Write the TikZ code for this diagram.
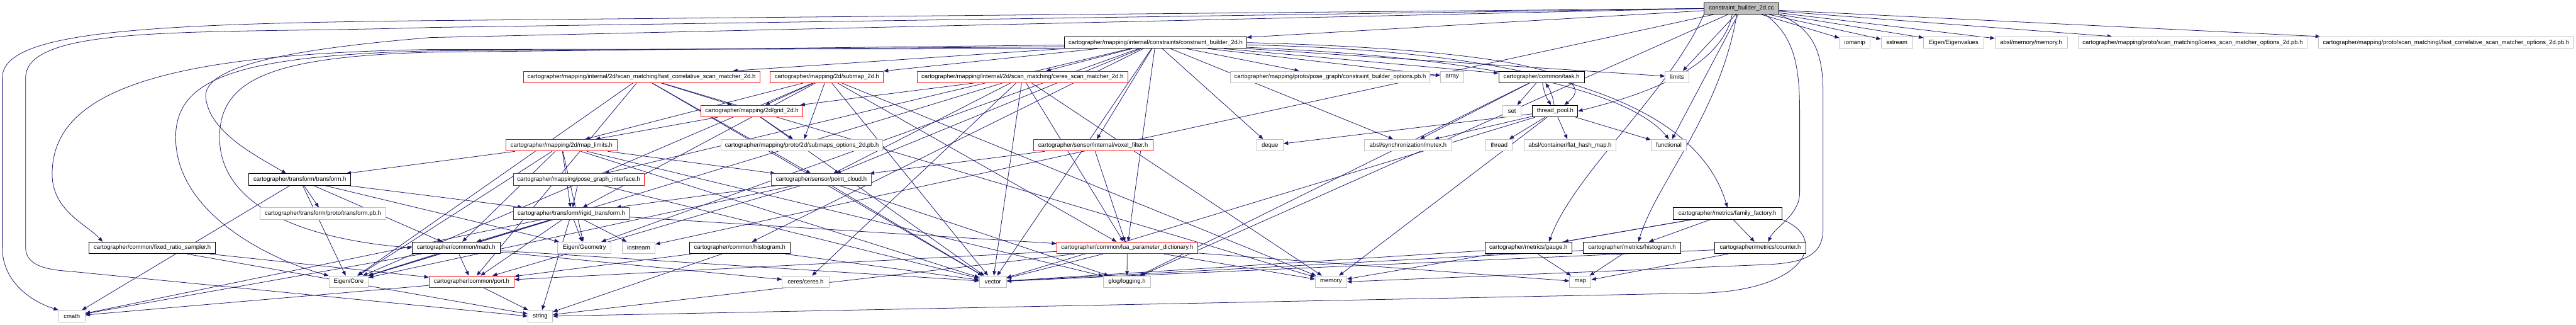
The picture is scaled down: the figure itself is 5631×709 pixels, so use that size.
\documentclass[tikz,border=0pt]{standalone}
\usepackage{fontspec}
\setmainfont{Liberation Sans}
\usetikzlibrary{arrows.meta,calc,backgrounds}
\definecolor{edgecol}{HTML}{191970}
\definecolor{grayb}{HTML}{BFBFBF}
\definecolor{redb}{HTML}{FF0000}
\newcommand\nodefnt{\fontsize{9.8pt}{11pt}\selectfont}
\begin{document}
\begin{tikzpicture}[x=0.75pt,y=-0.75pt,
  nb/.style={rectangle, draw, fill=white, inner sep=0pt, minimum height=19pt, font=\nodefnt, line width=1pt},
  bw/.style={minimum width=#1*0.75pt},
  gbox/.style={nb, draw=grayb},
  rbox/.style={nb, draw=redb},
  kbox/.style={nb, draw=black},
  rootbox/.style={nb, draw=black, fill=grayb},
  dep/.style={draw=edgecol, line width=0.8pt, -{Triangle[length=7.5pt,width=6pt]}},
]
\useasboundingbox (0,0) rectangle (5631,709);

% row 1
\node[rootbox, bw=163] (root) at (3806.5,18.5) {constraint\_builder\_2d.cc};
% row 2
\node[kbox, bw=398] (cb2dh) at (2526,93) {cartographer/mapping/internal/constraints/constraint\_builder\_2d.h};
\node[gbox, bw=67] (iomanip) at (4054.5,93) {iomanip};
\node[gbox, bw=69] (sstream) at (4146.5,93) {sstream};
\node[gbox, bw=131] (eigval) at (4270.5,93) {Eigen/Eigenvalues};
\node[gbox, bw=158] (absmem) at (4440,93) {absl/memory/memory.h};
\node[gbox, bw=500] (ceresopt) at (4793,93) {cartographer/mapping/proto/scan\_matching//ceres\_scan\_matcher\_options\_2d.pb.h};
\node[gbox, bw=558] (fastopt) at (5347,93) {cartographer/mapping/proto/scan\_matching//fast\_correlative\_scan\_matcher\_options\_2d.pb.h};
% row 3
\node[rbox, bw=517] (fcsm) at (1402.5,168) {cartographer/mapping/internal/2d/scan\_matching/fast\_correlative\_scan\_matcher\_2d.h};
\node[rbox, bw=247] (submap) at (1807.5,168) {cartographer/mapping/2d/submap\_2d.h};
\node[rbox, bw=460] (csm) at (2235,168) {cartographer/mapping/internal/2d/scan\_matching/ceres\_scan\_matcher\_2d.h};
\node[gbox, bw=435] (cbopt) at (2907.5,168) {cartographer/mapping/proto/pose\_graph/constraint\_builder\_options.pb.h};
\node[gbox, bw=51] (array) at (3174.5,168) {array};
\node[kbox, bw=187] (task) at (3369.5,168) {cartographer/common/task.h};
\node[gbox, bw=52] (limits) at (3666,168) {limits};
% row 4
\node[rbox, bw=223] (grid) at (1643.5,242.5) {cartographer/mapping/2d/grid\_2d.h};
\node[gbox, bw=40] (set) at (3305,242.5) {set};
\node[kbox, bw=99] (threadpool) at (3399.5,242.5) {thread\_pool.h};
% row 5
\node[rbox, bw=243] (maplimits) at (1227.5,317) {cartographer/mapping/2d/map\_limits.h};
\node[gbox, bw=354] (submapopt) at (1753,317) {cartographer/mapping/proto/2d/submaps\_options\_2d.pb.h};
\node[rbox, bw=261] (voxel) at (2389.5,317) {cartographer/sensor/internal/voxel\_filter.h};
\node[gbox, bw=58] (deque) at (2776,317) {deque};
\node[gbox, bw=192] (mutex) at (3078,317) {absl/synchronization/mutex.h};
\node[gbox, bw=58] (thread) at (3277,317) {thread};
\node[gbox, bw=202] (flat) at (3432,317) {absl/container/flat\_hash\_map.h};
\node[gbox, bw=78] (functional) at (3648,317) {functional};
% row 6
\node[kbox, bw=223] (transform) at (655.5,392) {cartographer/transform/transform.h};
\node[rbox, bw=286] (pgi) at (1265,392) {cartographer/mapping/pose\_graph\_interface.h};
\node[rbox, bw=219] (pc) at (1795.5,392) {cartographer/sensor/point\_cloud.h};
% row 7
\node[gbox, bw=274] (tpb) at (706,466) {cartographer/transform/proto/transform.pb.h};
\node[rbox, bw=254] (rigid) at (1249,466) {cartographer/transform/rigid\_transform.h};
\node[kbox, bw=238] (ff) at (3776,466) {cartographer/metrics/family\_factory.h};
% row 8
\node[kbox, bw=276] (frs) at (333,541) {cartographer/common/fixed\_ratio\_sampler.h};
\node[kbox, bw=192] (math) at (997,541) {cartographer/common/math.h};
\node[gbox, bw=117] (geom) at (1277.5,541) {Eigen/Geometry};
\node[gbox, bw=72] (iostream) at (1396,541) {iostream};
\node[kbox, bw=220] (chist) at (1617,541) {cartographer/common/histogram.h};
\node[rbox, bw=308] (lua) at (2464,541) {cartographer/common/lua\_parameter\_dictionary.h};
\node[kbox, bw=190] (gauge) at (3341,541) {cartographer/metrics/gauge.h};
\node[kbox, bw=213] (mhist) at (3567.5,541) {cartographer/metrics/histogram.h};
\node[kbox, bw=200] (counter) at (3848,541) {cartographer/metrics/counter.h};
% row 9
\node[gbox, bw=86] (core) at (762,615) {Eigen/Core};
\node[rbox, bw=186] (port) at (1031,615) {cartographer/common/port.h};
\node[gbox, bw=102] (ceres) at (1761,615) {ceres/ceres.h};
\node[gbox, bw=59] (vector) at (2170.5,615) {vector};
\node[gbox, bw=103] (glog) at (2463.5,615) {glog/logging.h};
\node[gbox, bw=69] (memory) at (2909.5,615) {memory};
\node[gbox, bw=47] (map) at (3454.5,615) {map};
% row 10
\node[gbox, bw=58] (cmath) at (157,690) {cmath};
\node[gbox, bw=54] (string) at (1181,690) {string};

% routing points
\coordinate (rA1) at (940,45);
\coordinate (rA2) at (5,170);
\coordinate (rA3) at (5,540);
\coordinate (rB1) at (940,60);
\coordinate (rB2) at (56,170);
\coordinate (rB3) at (56,540);
\coordinate (rB4) at (150,592);
\coordinate (rC1) at (940,108);
\coordinate (rC2) at (114,380);
\coordinate (rD1) at (940,111);
\coordinate (rD2) at (384,300);
\coordinate (rE1) at (940,114);
\coordinate (rE2) at (480,300);
\coordinate (rF1) at (940,82);
\coordinate (rF2) at (450,215);
\coordinate (rG1) at (3985,200);
\coordinate (rG2) at (3985,500);
\coordinate (rG3) at (3850,578);
\coordinate (rH1) at (3934,250);
\coordinate (rH2) at (3934,420);
\coordinate (rI1) at (3700,640);

\begin{pgfonlayer}{background}
\fill[white] (0,0) rectangle (5631,709);
% root
\foreach \t in {cb2dh,iomanip,sstream,eigval,absmem,ceresopt,fastopt,limits,functional,iostream,glog}
  \draw[dep] (root) -- (\t);
\draw[dep] (root.west) -- (rA1) .. controls (300,52) and (5,70) .. (rA2) -- (rA3) .. controls (5,610) and (60,655) .. (cmath.north west);
\draw[dep] (root.west) -- (rB1) .. controls (450,75) and (56,50) .. (rB2) -- (rB3) .. controls (56,575) and (90,588) .. (rB4) -- (string.west);
\draw[dep] (root.west) -- (rF1) .. controls (600,110) and (440,150) .. (rF2) .. controls (460,290) and (560,340) .. ($(transform.north)+(-30,0)$);
\draw[dep] (root.south east) .. controls (3960,60) and (3985,110) .. (rG1) -- (rG2) .. controls (3985,560) and (3940,575) .. (rG3) -- (memory.east);
\draw[dep] ($(root.south east)+(-30,0)$) .. controls (3925,80) and (3934,150) .. (rH1) -- (rH2) .. controls (3934,470) and (3880,495) .. ($(counter.north)+(17,0)$);
\draw[dep] ($(root.south)+(-20,0)$) .. controls (3760,160) and (3560,215) .. (threadpool.east);
\draw[dep] (root.south west) .. controls (3650,200) and (3440,380) .. ($(gauge.north)+(45,0)$);
\draw[dep] ($(root.south)+(-10,0)$) .. controls (3760,250) and (3620,400) .. ($(mhist.north)+(14,0)$);
% constraint_builder_2d.h
\foreach \t in {array,deque,limits,vector,geom,mutex,chist,lua,task,submap,csm,fcsm,pgi,cbopt,voxel,pc}
  \draw[dep] (cb2dh) -- (\t);
\draw[dep] (cb2dh.south west) -- (rC1) .. controls (350,118) and (114,200) .. (rC2) .. controls (114,460) and (190,490) .. ($(frs.north west)+(30,0)$);
\draw[dep] ($(cb2dh.south west)+(0,-4)$) -- (rD1) .. controls (520,122) and (384,170) .. (rD2) .. controls (384,470) and (600,570) .. (core.north west);
\draw[dep] ($(cb2dh.south west)+(0,-8)$) -- (rE1) .. controls (600,124) and (480,170) .. (rE2) .. controls (480,440) and (640,520) .. (math.west);
\draw[dep] ($(cb2dh.east)+(0,5)$) .. controls (3300,110) and (3700,200) .. (ff.north);
\draw[dep] (cb2dh.east) .. controls (3200,105) and (3520,150) .. ($(threadpool.north)+(20,0)$);
\draw[dep] ($(cb2dh.south east)+(0,-3)$) .. controls (3350,130) and (3580,220) .. (functional.north);
% others
\foreach \t in {grid,pc,port,core,memory,vector} \draw[dep] (fcsm) -- (\t);
\foreach \t in {grid,maplimits,submapopt,core,lua,rigid,vector,memory} \draw[dep] (submap) -- (\t);
\foreach \t in {grid,vector,core,lua,pc,ceres,memory} \draw[dep] (csm) -- (\t);
\foreach \t in {set,mutex,glog} \draw[dep] (task) -- (\t);
\draw[dep] (task) to[bend right=12] (threadpool);
\draw[dep] (threadpool) to[bend right=12] (task);
\foreach \t in {mutex,thread,flat,functional,deque,memory,vector} \draw[dep] (threadpool) -- (\t);
\foreach \t in {maplimits,submapopt,vector} \draw[dep] (grid) -- (\t);
\foreach \t in {vector,core,geom,math,pc,rigid,transform,glog} \draw[dep] (maplimits) -- (\t);
\foreach \t in {pc,lua} \draw[dep] (voxel) -- (\t);
\foreach \t in {tpb,cmath,core,geom,math,rigid} \draw[dep] (transform) -- (\t);
\foreach \t in {rigid,vector} \draw[dep] (pgi) -- (\t);
\foreach \t in {rigid,port,vector,core,glog} \draw[dep] (pc) -- (\t);
\foreach \t in {cmath,core,math,port,string,geom,iostream,lua} \draw[dep] (rigid) -- (\t);
\foreach \t in {core,port,cmath,ceres,vector} \draw[dep] (math) -- (\t);
\foreach \t in {port,string} \draw[dep] (frs) -- (\t);
\foreach \t in {string,cmath} \draw[dep] (port) -- (\t);
\foreach \t in {port,string,vector} \draw[dep] (chist) -- (\t);
\foreach \t in {vector,glog,port,string,memory,map} \draw[dep] (lua) -- (\t);
\foreach \t in {gauge,mhist,counter,memory} \draw[dep] (ff) -- (\t);
\draw[dep] (ff.south east) .. controls (4000,520) and (3950,640) .. (rI1) -- (string.east);
\foreach \t in {map,vector} \draw[dep] (gauge) -- (\t);
\foreach \t in {map,vector} \draw[dep] (mhist) -- (\t);
\foreach \t in {map,vector} \draw[dep] (counter) -- (\t);
\end{pgfonlayer}
\end{tikzpicture}
\end{document}
